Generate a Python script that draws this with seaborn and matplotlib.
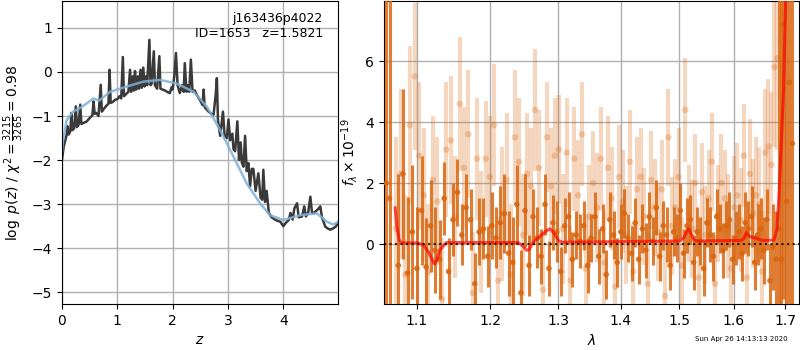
import numpy as np
import pandas as pd
import matplotlib
matplotlib.use('Agg')
import matplotlib.pyplot as plt
import seaborn as sns
from matplotlib.ticker import NullLocator, FixedLocator

# ---- p(z) panel ----
pz_z = [0.00, 0.03, 0.06, 0.08, 0.10, 0.12, 0.15, 0.17, 0.19, 0.22, 0.25, 0.27, 0.30, 0.33, 0.35,
        0.40, 0.44, 0.50, 0.55, 0.57, 0.59, 0.62, 0.66, 0.70, 0.72, 0.76, 0.80, 0.84, 0.86, 0.88,
        0.92, 0.96, 1.00, 1.04, 1.07, 1.10, 1.12, 1.16, 1.20, 1.23, 1.25, 1.28, 1.30, 1.32, 1.34,
        1.37, 1.39, 1.42, 1.44, 1.47, 1.49, 1.52, 1.54, 1.58, 1.60, 1.62, 1.66, 1.68, 1.72, 1.76,
        1.78, 1.82, 1.86, 1.90, 1.95, 1.98, 2.00, 2.03, 2.06, 2.09, 2.13, 2.17, 2.20, 2.22, 2.25,
        2.28, 2.30, 2.33, 2.36, 2.40, 2.45, 2.50, 2.54, 2.56, 2.58, 2.65, 2.70, 2.74, 2.78, 2.80,
        2.82, 2.86, 2.91, 2.94, 2.98, 3.01, 3.04, 3.08, 3.10, 3.13, 3.17, 3.20, 3.23, 3.25, 3.28,
        3.31, 3.34, 3.37, 3.40, 3.43, 3.46, 3.50, 3.55, 3.59, 3.62, 3.64, 3.67, 3.70, 3.74, 3.79,
        3.85, 3.90, 3.95, 4.00, 4.05, 4.10, 4.13, 4.17, 4.20, 4.25, 4.28, 4.34, 4.38, 4.41, 4.45,
        4.49, 4.52, 4.55, 4.60, 4.64, 4.67, 4.70, 4.76, 4.80, 4.85, 4.90, 4.95, 5.00]
pz_logp = [-1.99, -1.70, -1.55, -1.45, -1.23, -1.42, -1.35, -0.93, -1.32, -1.28, -0.78, -1.25, -1.20, -0.74, -1.18,
           -1.15, -1.13, -1.05, -0.98, -0.67, -0.95, -0.93, -1.00, -0.29, -0.90, -0.83, -0.77, -0.72, 0.05, -0.70,
           -0.68, -0.63, -0.62, -0.55, -0.60, 0.34, -0.55, -0.50, -0.45, 0.05, -0.45, -0.10, -0.42, 0.02, -0.40,
           -0.10, -0.38, 0.05, -0.36, 0.10, -0.33, -0.10, -0.30, 0.73, -0.30, -0.27, 0.47, -0.30, -0.38, 0.36,
           -0.38, -0.40, -0.42, -0.45, -0.48, -0.35, -0.40, -0.10, 0.43, -0.30, -0.48, -0.30, -0.45, 0.20, -0.45,
           -0.30, -0.45, 0.28, -0.45, -0.42, -0.55, -0.65, -0.75, -0.40, -0.80, -0.90, -0.95, -0.97, -0.50, -0.14,
           -1.10, -1.45, -0.90, -1.45, -1.50, -1.08, -1.55, -1.40, -1.75, -1.80, -1.12, -2.00, -1.60, -2.05, -2.15,
           -1.45, -2.25, -2.07, -2.60, -2.20, -2.20, -2.70, -2.30, -2.85, -2.90, -2.22, -2.95, -2.70, -3.20, -3.30,
           -3.35, -3.38, -3.40, -3.50, -3.42, -3.36, -3.20, -3.35, -3.10, -2.98, -3.30, -3.28, -3.05, -3.28, -3.20,
           -2.83, -3.20, -3.20, -3.15, -3.10, -3.05, -3.30, -3.51, -3.55, -3.58, -3.55, -3.51, -3.40]

prior_z = [0.00, 0.02, 0.085, 0.2, 0.35, 0.57, 0.67, 0.87, 1.17, 1.47, 1.77, 2.07, 2.38, 2.62, 2.86,
           3.10, 3.34, 3.58, 3.76, 4.00, 4.31, 4.61, 4.79, 4.90, 5.00]
prior_logp = [-1.80, -1.55, -1.09, -0.90, -0.80, -0.60, -0.65, -0.45, -0.33, -0.22, -0.18, -0.26, -0.45, -0.79, -1.32,
              -1.92, -2.53, -2.98, -3.25, -3.36, -3.25, -3.21, -3.40, -3.46, -3.40]

# ---- spectrum panel ----
dark_wave = [1.076, 1.082, 1.088, 1.094, 1.100, 1.106, 1.112, 1.118, 1.124, 1.130,
             1.136, 1.142, 1.148, 1.154, 1.160, 1.166, 1.172, 1.178, 1.184, 1.190,
             1.196, 1.202, 1.208, 1.214, 1.220, 1.226, 1.232, 1.238, 1.244, 1.250,
             1.256, 1.262, 1.268, 1.274, 1.280, 1.286, 1.292, 1.298, 1.304, 1.310,
             1.316, 1.322, 1.328, 1.334, 1.340, 1.346, 1.352, 1.358, 1.364, 1.370,
             1.376, 1.382, 1.388, 1.394, 1.400, 1.406, 1.412, 1.418, 1.424, 1.430,
             1.436, 1.442, 1.448, 1.454, 1.460, 1.466, 1.472, 1.478, 1.484, 1.490,
             1.496, 1.502, 1.508, 1.514, 1.520, 1.526, 1.532, 1.538, 1.544, 1.550,
             1.556, 1.562, 1.568, 1.574, 1.580, 1.586, 1.592, 1.598, 1.604, 1.610,
             1.616, 1.622, 1.628, 1.634, 1.640, 1.646, 1.652, 1.658, 1.664, 1.670,
             1.676, 1.682]
dark_flux = [-0.7, 2.3, -0.95, 0.4, -0.8, 1.1, -0.75, 0.6, -0.2, -0.5,
             1.5, -0.9, 0.8, 1.7, 0.3, 1.2, 0.8, -1.3, 0.4, 0.5,
             -0.4, 0.6, 0.2, 0.7, 1.0, -0.3, -0.6, 1.3, -1.6, 1.1,
             -0.7, 0.9, 0.2, -0.4, 1.3, -0.8, 0.7, 0.4, -0.9, 0.6,
             0.9, -0.5, 0.3, 0.1, 0.6, -0.7, 0.2, 0.9, -0.4, 0.5,
             -1.0, 0.8, 0.3, -0.6, 0.4, 1.0, 0.2, -0.3, 0.7, -0.5,
             0.5, -0.2, 0.9, 0.1, 1.2, -0.4, 0.6, 0.3, -0.7, 0.4,
             0.2, 1.1, -0.3, 0.6, 0.8, -0.6, 0.4, 0.1, -0.8, 0.7,
             0.3, -0.4, 0.9, 0.5, -0.2, 0.6, 0.8, -0.5, 0.2, 0.4,
             -0.3, 0.7, 0.5, 0.9, -0.6, 0.3, 0.5, -0.2, 0.8, -1.2,
             -0.1, -0.5]
dark_err = [3.0, 2.8, 2.5, 2.2, 2.0, 1.8, 1.6, 1.5, 1.4, 1.3,
            1.2, 1.1, 1.2, 1.1, 1.0, 1.1, 1.0, 1.0, 1.1, 1.0,
            1.0, 1.1, 1.0, 1.2, 1.3, 1.4, 1.5, 1.3, 1.4, 1.2,
            1.0, 0.9, 1.0, 0.9, 1.0, 0.9, 0.9, 1.0, 0.8, 0.9,
            0.8, 0.9, 0.8, 0.9, 0.8, 0.9, 0.8, 0.8, 0.9, 0.8,
            0.8, 0.9, 0.8, 0.8, 0.9, 0.8, 0.8, 0.9, 0.8, 0.8,
            0.8, 0.9, 0.8, 0.8, 0.9, 0.8, 0.8, 0.9, 0.8, 0.8,
            0.8, 0.9, 0.8, 0.9, 0.8, 0.9, 0.8, 0.8, 0.9, 0.8,
            0.9, 0.8, 0.9, 0.8, 0.9, 0.8, 0.9, 0.8, 0.9, 0.9,
            0.9, 1.0, 0.9, 1.0, 0.9, 1.0, 1.0, 1.1, 1.0, 1.2,
            1.4, 1.6]

# bins at the edges of the grism sensitivity (huge errors)
edge_wave = [1.061, 1.065, 1.688, 1.693, 1.697, 1.703, 1.709, 1.715]
edge_flux = [2.0, 1.5, 0.5, -0.5, 7.2, 1.4, 5.3, 3.3]
edge_err = [9.0, 9.0, 9.0, 9.0, 9.0, 9.0, 9.0, 9.0]

light_wave = [1.073, 1.079, 1.085, 1.091, 1.097, 1.103, 1.109, 1.115, 1.121, 1.127,
              1.133, 1.139, 1.145, 1.151, 1.157, 1.163, 1.169, 1.175, 1.181, 1.187,
              1.193, 1.199, 1.205, 1.211, 1.217, 1.223, 1.229, 1.235, 1.241, 1.247,
              1.253, 1.259, 1.265, 1.271, 1.277, 1.283, 1.289, 1.295, 1.301, 1.307,
              1.313, 1.319, 1.325, 1.331, 1.337, 1.343, 1.349, 1.355, 1.361, 1.367,
              1.373, 1.379, 1.385, 1.391, 1.397, 1.403, 1.409, 1.415, 1.421, 1.427,
              1.433, 1.439, 1.445, 1.451, 1.457, 1.463, 1.469, 1.475, 1.481, 1.487,
              1.493, 1.499, 1.505, 1.511, 1.517, 1.523, 1.529, 1.535, 1.541, 1.547,
              1.553, 1.559, 1.565, 1.571, 1.577, 1.583, 1.589, 1.595, 1.601, 1.607,
              1.613, 1.619, 1.625, 1.631, 1.637, 1.643, 1.649, 1.655, 1.661, 1.667,
              1.673, 1.679, 1.685]
light_flux = [0.5, 2.3, -1.0, 3.9, 5.5, 2.9, 1.6, -0.9, 2.1, 1.4,
              -1.8, 3.1, 3.4, 0.9, 4.6, 2.5, 3.6, -1.6, 2.8, 0.4,
              2.8, 2.2, 3.9, -1.2, 1.0, 2.1, -1.0, 3.5, 2.7, 0.3,
              2.3, 1.9, 4.4, 2.5, -1.5, 3.5, 1.9, 2.9, 3.1, 0.5,
              3.0, -1.2, 2.8, 1.6, 3.6, -0.8, 0.9, 2.0, 1.2, 2.8,
              -0.6, 2.5, 1.5, -1.4, 2.2, 1.4, 0.3, 2.7, -0.9, 1.8,
              2.2, 0.9, -1.3, 2.1, 1.2, 0.4, 1.8, -1.7, 3.5, 0.6,
              1.2, 2.2, -0.7, 4.4, 1.0, 0.5, 2.0, -1.1, 1.7, 0.3,
              1.5, 2.7, -1.3, 1.0, 2.0, 1.5, 0.6, -0.8, 1.2, 1.6,
              0.8, 2.9, -1.1, 2.3, 1.0, 1.6, 1.3, -0.9, 3.0, 3.2,
              2.6, 5.8, 6.1]
light_err = [3.0, 2.8, 2.6, 2.6, 2.4, 2.4, 2.2, 2.2, 2.1, 2.1,
             2.0, 2.2, 2.1, 2.0, 2.2, 2.0, 2.1, 2.0, 2.0, 2.0,
             1.9, 2.0, 2.0, 2.1, 2.2, 2.2, 2.3, 2.2, 2.1, 2.0,
             2.0, 1.9, 2.0, 1.9, 1.9, 1.8, 1.9, 1.9, 1.8, 1.8,
             1.8, 1.8, 1.7, 1.8, 1.7, 1.8, 1.7, 1.7, 1.8, 1.7,
             1.7, 1.7, 1.7, 1.6, 1.7, 1.7, 1.6, 1.7, 1.6, 1.7,
             1.6, 1.6, 1.7, 1.6, 1.6, 1.6, 1.6, 1.7, 1.6, 1.6,
             1.6, 1.6, 1.6, 1.7, 1.6, 1.6, 1.6, 1.6, 1.6, 1.6,
             1.6, 1.6, 1.6, 1.6, 1.6, 1.6, 1.7, 1.6, 1.7, 1.7,
             1.7, 1.7, 1.8, 1.8, 1.8, 1.9, 1.9, 2.0, 2.1, 2.2,
             2.4, 2.6, 3.0]

model_wave = [1.072, 1.074, 1.077, 1.080, 1.100, 1.108, 1.115, 1.120, 1.123, 1.126, 1.130, 1.139,
              1.240, 1.246, 1.252, 1.256, 1.262, 1.272, 1.283, 1.288, 1.294, 1.300, 1.306,
              1.400, 1.500, 1.508, 1.513, 1.517, 1.521, 1.526, 1.531,
              1.615, 1.620, 1.624, 1.630, 1.641, 1.655, 1.678, 1.684, 1.688, 1.693, 1.697, 1.702]
model_flux = [1.2, 0.6, 0.15, 0.04, 0.04, -0.02, -0.25, -0.5, -0.65, -0.55, -0.2, 0.05,
              0.05, -0.05, -0.2, -0.18, 0.05, 0.25, 0.45, 0.5, 0.35, 0.12, 0.06,
              0.08, 0.1, 0.2, 0.4, 0.5, 0.35, 0.15, 0.1,
              0.12, 0.2, 0.38, 0.25, 0.2, 0.12, 0.13, 0.5, 1.6, 3.5, 5.0, 8.5]

wave_ticks = [1.1, 1.2, 1.3, 1.4, 1.5, 1.6, 1.7]

sns.set_style('ticks', {'axes.grid': True, 'grid.color': '#b0b0b0',
                        'axes.edgecolor': 'black', 'xtick.color': 'black',
                        'ytick.color': 'black', 'text.color': 'black',
                        'axes.labelcolor': 'black'})
plt.rcParams['font.family'] = ['DejaVu Sans']

fig = plt.figure(figsize=(8, 3.5), dpi=100)
ax1 = fig.add_axes([0.0775, 0.131, 0.345, 0.866])
ax2 = fig.add_axes([0.48, 0.131, 0.5185, 0.866])

# left: p(z)
sns.lineplot(x=pz_z, y=pz_logp, ax=ax1, color='#3a3a3a', lw=1.8, sort=False)
sns.lineplot(x=prior_z, y=prior_logp, ax=ax1, color='#7fb0d8', lw=1.8, alpha=0.85)
ax1.set_xlim(0, 4.99)
ax1.set_ylim(-5.27, 1.61)
ax1.set_xticks([0, 1, 2, 3, 4])
ax1.set_yticks([-5, -4, -3, -2, -1, 0, 1])
ax1.set_xlabel(r'$z$')
ax1.set_ylabel(r'$\log\ p(z)$ / $\chi^2=\frac{3215}{3265}=0.98$')
ax1.text(0.945, 0.965, 'j163436p4022\nID=1653   z=1.5821', transform=ax1.transAxes,
         ha='right', va='top', fontsize=9)
ax1.grid(True, color='#b0b0b0', lw=1)

# right: spectrum
orange = '#d9660f'
ax2.errorbar(light_wave, light_flux, yerr=light_err, fmt='none', ecolor=orange,
             elinewidth=3, alpha=0.26, zorder=2)
sns.scatterplot(x=light_wave, y=light_flux, ax=ax2, color=orange, s=22, alpha=0.28,
                edgecolor='none', zorder=2)
ax2.errorbar(dark_wave + edge_wave, dark_flux + edge_flux, yerr=dark_err + edge_err,
             fmt='none', ecolor=orange, elinewidth=2.2, alpha=0.85, zorder=3)
sns.scatterplot(x=dark_wave + edge_wave, y=dark_flux + edge_flux, ax=ax2, color=orange,
                s=16, alpha=0.9, edgecolor='none', zorder=3)
sns.lineplot(x=model_wave, y=model_flux, ax=ax2, color='red', lw=2.2, alpha=0.7, zorder=4)
ax2.axhline(0, color='black', ls=':', lw=1.5, alpha=0.8, zorder=5)

ax2.set_xscale('log')
ax2.set_xlim(1.058, 1.728)
ax2.set_ylim(-1.97, 7.97)
ax2.xaxis.set_major_locator(FixedLocator(wave_ticks))
ax2.xaxis.set_minor_locator(NullLocator())
ax2.set_xticklabels([f'{t:.1f}' for t in wave_ticks])
ax2.set_yticks([0, 2, 4, 6])
ax2.set_xlabel(r'$\lambda$')
ax2.set_ylabel(r'$f_\lambda\times 10^{-19}$')
ax2.grid(True, color='#b0b0b0', lw=1)
ax2.set_axisbelow(True)

fig.text(0.984, 0.031, 'Sun Apr 26 14:13:13 2020', ha='right', va='center', fontsize=5)

fig.savefig('out.png', dpi=100)
